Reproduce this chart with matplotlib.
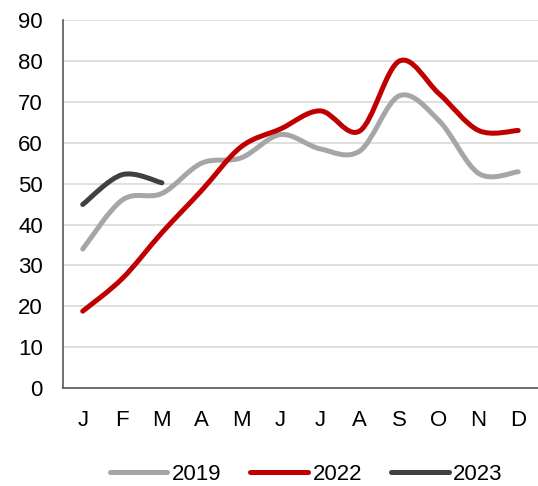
import numpy as np
import matplotlib
matplotlib.use('Agg')
import matplotlib.pyplot as plt
from matplotlib.path import Path
from matplotlib.patches import PathPatch
from matplotlib.lines import Line2D

plt.rcParams['font.family'] = ['Liberation Sans', 'DejaVu Sans']

months = ['J', 'F', 'M', 'A', 'M', 'J', 'J', 'A', 'S', 'O', 'N', 'D']
y2019 = [34, 46, 47.6, 55, 56.3, 62, 58.5, 58, 71.5, 65.4, 52.5, 52.9]
y2022 = [18.8, 26.8, 38, 48.3, 59, 63.4, 67.8, 62.9, 80, 72, 63, 63]
y2023 = [44.9, 52.2, 50.2]

series = [('2019', y2019, '#a6a6a6'),
          ('2022', y2022, '#c00000'),
          ('2023', y2023, '#404040')]


def smooth_path(xs, ys):
    # excel style smoothed line: cubic bezier, control points from neighbours
    pts = np.column_stack([xs, ys]).astype(float)
    n = len(pts)
    verts = [pts[0]]
    codes = [Path.MOVETO]
    for i in range(n - 1):
        p0 = pts[i - 1] if i > 0 else pts[i]
        p1 = pts[i]
        p2 = pts[i + 1]
        p3 = pts[i + 2] if i + 2 < n else pts[i + 1]
        c1 = p1 + (p2 - p0) / 6.0
        c2 = p2 - (p3 - p1) / 6.0
        verts += [c1, c2, p2]
        codes += [Path.CURVE4] * 3
    return Path(verts, codes)


fig = plt.figure(figsize=(5.38, 4.86), dpi=100)
ax = fig.add_axes([0.117, 0.2016, 0.883, 0.757])

handles = []
for name, vals, col in series:
    x = np.arange(len(vals))
    p = PathPatch(smooth_path(x, vals), fill=False, edgecolor=col, lw=3.6,
                  capstyle='round', joinstyle='round', zorder=3)
    ax.add_patch(p)
    handles.append(Line2D([], [], color=col, lw=3.6, solid_capstyle='round', label=name))

ax.set_xlim(-0.5, 11.5)
ax.set_ylim(0, 90)
ax.set_yticks(range(0, 91, 10))
ax.set_xticks(range(12))
ax.set_xticklabels(months)
ax.yaxis.grid(True, color='#d9d9d9', lw=1.2)
ax.set_axisbelow(True)
for s in ['top', 'right']:
    ax.spines[s].set_visible(False)
for s in ['left', 'bottom']:
    ax.spines[s].set_color('#595959')
    ax.spines[s].set_linewidth(1.2)
ax.tick_params(length=0, labelsize=16, colors='black')
ax.tick_params(axis='x', pad=15.5)
ax.tick_params(axis='y', pad=14.5)

fig.legend(handles=handles, loc='center', bbox_to_anchor=(0.569, 0.024), ncol=3,
           frameon=False, fontsize=16, handlelength=2.6, handletextpad=0.2,
           columnspacing=1.3, borderpad=0.2)

fig.savefig('out.png', dpi=100)
